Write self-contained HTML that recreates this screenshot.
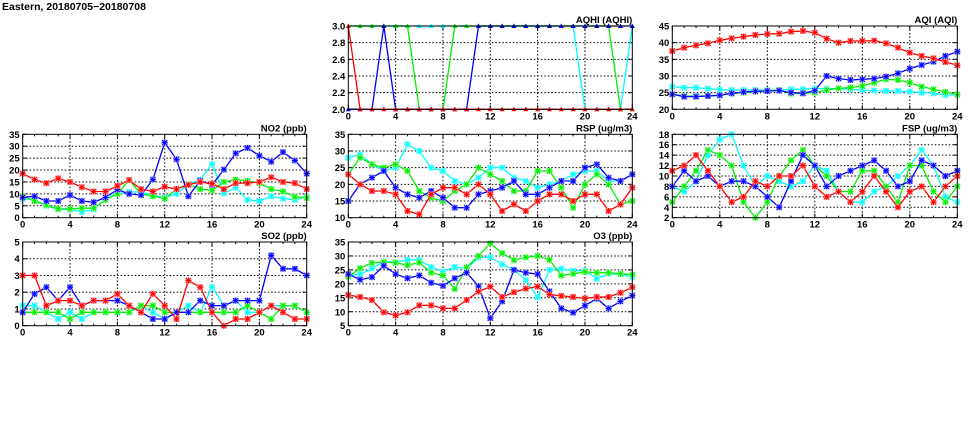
<!DOCTYPE html>
<html><head><meta charset="utf-8"><style>
html,body{margin:0;padding:0;background:#fff;width:975px;height:447px;overflow:hidden}
svg{display:block}
text{font-family:"Liberation Sans",sans-serif;font-weight:bold;font-size:9.5px;fill:#000}
</style></head><body>
<svg id="s" width="975" height="447" viewBox="0 0 975 447" xmlns="http://www.w3.org/2000/svg">
<text x="2" y="10" style="font-size:10.5px">Eastern, 20180705−20180708</text>
</svg>
<script>
const S=document.getElementById('s');let h='';
const C={r:'#ff0000',g:'#00ee00',b:'#0000ff',c:'#00ffff'};
const L={r:'#ffb0b0',g:'#b0ffb0',b:'#b0b0ff',c:'#b0ffff'};
function panel(x0,x1,y0,y1,ymin,ymax,step,dec,title,series,tri){
 const W=x1-x0,H=y1-y0;
 const X=i=>x0+i*W/24, Y=v=>y1-(v-ymin)/(ymax-ymin)*H;
 for(let t=4;t<24;t+=4)h+=`<line x1="${X(t)}" y1="${y0}" x2="${X(t)}" y2="${y1}" stroke="#000" stroke-width="1" stroke-dasharray="1.5,2"/>`;
 for(let v=ymin+step;v<ymax-1e-9;v+=step)h+=`<line x1="${x0}" y1="${Y(v)}" x2="${x1}" y2="${Y(v)}" stroke="#000" stroke-width="1" stroke-dasharray="1.5,2"/>`;
 for(let t=0;t<=24;t++){const l=t%4?2:4;h+=`<line x1="${X(t)}" y1="${y1}" x2="${X(t)}" y2="${y1-l}" stroke="#000"/><line x1="${X(t)}" y1="${y0}" x2="${X(t)}" y2="${y0+l}" stroke="#000"/>`;}
 for(let t=0;t<=24;t+=4)h+=`<text x="${X(t)}" y="${y1+10}" text-anchor="middle">${t}</text>`;
 for(let v=ymin;v<=ymax+1e-9;v+=step){h+=`<text x="${x0-3}" y="${Y(v)+3.5}" text-anchor="end">${v.toFixed(dec)}</text>`;
  h+=`<line x1="${x0}" y1="${Y(v)}" x2="${x0+4}" y2="${Y(v)}" stroke="#000"/><line x1="${x1}" y1="${Y(v)}" x2="${x1-4}" y2="${Y(v)}" stroke="#000"/>`;}
 h+=`<text x="${x1}" y="${y0-3}" text-anchor="end">${title}</text>`;
 for(const k of ['c','g','b','r']){const d=series[k];if(!d)continue;
  h+=`<polyline fill="none" stroke="${C[k]}" stroke-width="1.3" points="${d.map((v,i)=>X(i).toFixed(1)+','+Y(v).toFixed(1)).join(' ')}"/>`;
  d.forEach((v,i)=>{const x=X(i),y=Y(v);
   if(tri){h+=`<polygon points="${x-2.5},${y+2} ${x+2.5},${y+2} ${x},${y-2.5}" fill="${C[k]}"/>`;}
   else{h+=`<rect x="${x-3}" y="${y-3}" width="6" height="6" fill="${L[k]}"/><path d="M${x-2.5} ${y-2.5}L${x+2.5} ${y+2.5}M${x-2.5} ${y+2.5}L${x+2.5} ${y-2.5}M${x-3} ${y}H${x+3}M${x} ${y-3}V${y+3}" stroke="${C[k]}" stroke-width="1"/>`;}
  });}
 h+=`<rect x="${x0}" y="${y0}" width="${W}" height="${H}" fill="none" stroke="#000" stroke-width="1"/>`;
}
const A=(a,n)=>Array(n).fill(a);
panel(348.3,632.3,26,109.3,2,3,0.2,1,'AQHI (AQHI)',{
 c:[...A(3,20),2,2,2,2,3],
 g:[...A(3,6),2,2,2,...A(3,14),2,2],
 b:[2,2,2,3,...A(2,7),...A(3,14)],
 r:[3,...A(2,24)]},true);
panel(672.3,957.3,26,109.3,20,45,5,0,'AQI (AQI)',{
 r:[37.5,38.5,39.2,39.8,40.7,41.3,41.8,42.3,42.6,42.7,43.3,43.5,43,41.2,40,40.5,40.5,40.6,39.8,38.5,37,36,35.3,34.2,33.2],
 b:[24.5,23.8,23.8,24,24.2,24.8,25.2,25.4,25.5,25.6,25,24.8,25.6,30,29.2,28.8,29,29.2,29.8,30.8,32.2,33.3,34.3,36,37.3],
 g:[24.5,24,24,24,24.3,24.7,25,25.3,25.6,25.8,24.7,24.8,25,25.8,26.3,26.5,27,28,29,28.8,28,26.8,26,25.2,24.5],
 c:[26.8,26.5,26.5,26.2,25.9,25.8,25.8,25.8,25.8,25.8,26,26,26.2,26.2,26.2,26,25.8,25.6,25.5,25.5,25.3,25,24.8,24.3,24.3]});
panel(22.7,306.7,134.3,217.7,0,35,5,0,'NO2 (ppb)',{
 r:[18.5,16,14.5,16.5,15,12.8,11,11,13.3,15.8,12,11,13,12,13.8,15,14.3,12,14.5,14.5,15,17,15,14.5,12],
 b:[8.5,9,7,7,9.5,7,6.5,8.5,11.8,10,9.5,16,31.5,24.5,9,15.5,13.8,20.2,27,29.3,26,23.5,27.5,24,18.5],
 g:[9,7,5.3,3.7,3.7,4,4,7.5,10,15.8,10,9,8,12,14,12,11.5,15,16,15.5,14.5,12,11,8.8,8.3],
 c:[8,7.5,5,3.5,3.5,2.5,3.5,8,10,10.8,10.8,9.5,8.5,10,14,16,22.5,10.2,12.7,7.5,7,9,8,7.5,8.8]});
panel(348.3,632.3,134.3,217.7,10,35,5,0,'RSP (ug/m3)',{
 r:[23,20,18,18,17,12,11,17,19,19,17,20,17,12,14,12,15,17,17,15,17,17,12,14,19],
 b:[15,20,22,24,19,17,16,18,16,13,13,17,18,19,21,17,17,19,21,21,25,26,22,21,23],
 g:[23,28,26,25,26,24,18,16,15,18,20,25,23,21,18,18,24,24,19,13,20,23,20,14,15],
 c:[28,29,26,24,25,32,30,25,24,21,20,22,25,25,22,21,19,20,21,23,24,24,21,21,23]});
panel(672.3,957.3,134.3,217.7,2,18,2,0,'FSP (ug/m3)',{
 r:[11,12,14,11,8,5,6,9,8,10,10,12,8,6,7,5,7,10,7,4,7,8,5,8,10],
 b:[8,11,9,10,8,9,9,8,6,4,9,14,12,8,10,11,12,13,11,8,9,13,12,10,11],
 g:[5,8,11,15,14,12,5,2,5,10,13,15,12,10,7,7,11,11,8,5,12,12,7,5,8],
 c:[8,7,9,14,17,18,12,8,10,9,8,9,12,11,7,5,5,7,8,10,12,15,12,6,5]});
panel(22.7,306.7,242,325.7,0,5,1,0,'SO2 (ppb)',{
 r:[3,3,1.2,1.5,1.5,1.2,1.5,1.5,1.9,1.2,0.8,1.9,1.2,0.4,2.7,2.3,0.8,0,0.4,0.4,0.8,1.2,0.8,0.4,0.4],
 b:[0.8,1.9,2.3,1.5,2.3,1.2,1.5,1.5,1.5,1.2,0.8,0.4,0.4,0.8,0.8,1.5,1.2,1.2,1.5,1.5,1.5,4.2,3.4,3.4,3],
 g:[0.8,0.8,0.8,0.8,0.4,0.8,0.8,0.8,0.8,0.8,1.2,1.2,0.8,0.8,0.8,0.8,0.8,0.8,0.8,1.2,0.8,0.4,1.2,1.2,0.8],
 c:[1.2,1.2,0.8,0.4,0.8,0.4,0.8,0.8,0.8,0.8,1.2,0.8,0.4,0.8,1.2,0.8,2.3,1.2,1.5,0.8,0.8,1.2,1.2,1.2,0.8]});
panel(348.3,632.3,242,325.7,5,35,5,0,'O3 (ppb)',{
 r:[16,15.3,14.2,9.8,8.7,9.8,12.3,12.3,11.2,11.2,14.2,17.2,19,15.3,17,18.3,19,16.2,15.7,15.3,14.8,15.3,15.3,16.8,18.8],
 b:[23.5,21.5,22.4,26.5,23.5,22,23,20.4,19.3,22,24,19.2,7.7,13.7,25,24,23.5,17.3,11.2,9.7,12.2,14.7,11.2,13.7,15.8],
 g:[22.6,25.6,27.5,27.8,27.5,26.7,27.6,24,23,18.2,25.9,30,34.5,31,28.5,29.5,30,28.6,23,23.6,24.3,24,24,23.6,23.3],
 c:[23,23.5,25.5,28,27.8,28.6,28.6,26,24.4,26,25.5,29.4,29.6,27,25,21.4,15.2,25,25.4,24.7,24.7,21.8,23.6,23.4,22.5]});
S.insertAdjacentHTML('beforeend',h);
</script>
</body></html>
